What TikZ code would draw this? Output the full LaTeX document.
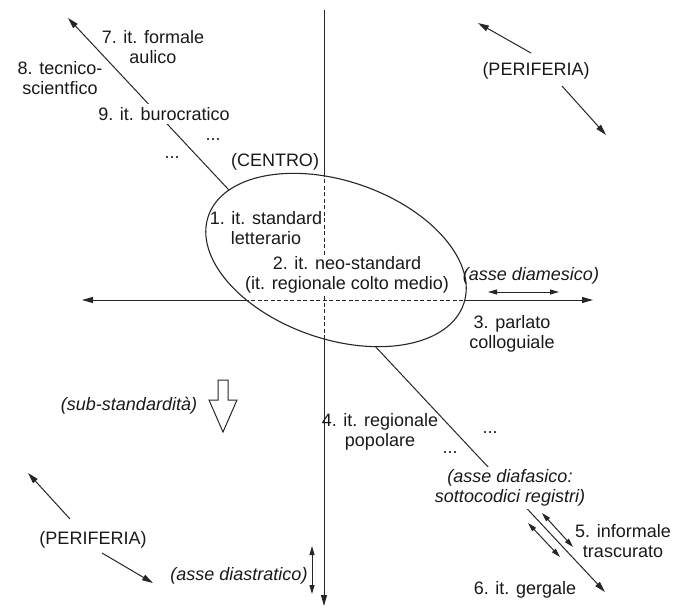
\documentclass[tikz,border=0pt]{standalone}
\usepackage{fontspec}
\setsansfont{Liberation Sans}
\usetikzlibrary{arrows.meta}

\begin{document}
\begin{tikzpicture}[x=1pt, y=-1pt,
    ink/.style={black!85, line width=1pt},
    arr/.style={ink, -{Triangle[length=11pt, width=6pt]}},
    darr/.style={ink, {Triangle[length=11pt, width=6pt]}-{Triangle[length=11pt, width=6pt]}},
    sarr/.style={ink, {Triangle[length=9pt, width=5pt]}-{Triangle[length=9pt, width=5pt]}},
    dashline/.style={black!85, line width=1pt, dash pattern=on 4pt off 2.5pt},
    lbl/.style={align=center, inner sep=1pt, text=black!90},
    gaplbl/.style={lbl, fill=white, inner sep=3pt},
    axislbl/.style={lbl, font=\itshape}]
  \sffamily
  \fontsize{18}{20.5}\selectfont
  \useasboundingbox (0,0) rectangle (676,608);

  % =======================================================
  % PARAMETERS
  % =======================================================
  \def\Cx{336}  % centre of the ellipse (CENTRO)
  \def\Cy{260}
  \def\Tilt{-19} % tilt of the ellipse in degrees
  \def\Ra{135}  % half axes
  \def\Rb{79}

  % =======================================================
  % 1. Axes
  % =======================================================
  \coordinate (vtop)   at (324,10);
  \coordinate (vbot)   at (324,606);
  \coordinate (hleft)  at (82,300);
  \coordinate (hright) at (593,300);
  \coordinate (dtop)   at (68,18);
  \coordinate (dbot)   at (605,592);

  \draw[arr]  (vtop) -- (vbot);   % diastratico
  \draw[darr] (hleft) -- (hright); % diamesico
  \draw[darr] (dtop) -- (dbot);   % diafasico

  % =======================================================
  % 2. Centre (ellipse, dashed axes inside)
  % =======================================================
  \fill[white, rotate around={\Tilt:(\Cx,\Cy)}] (\Cx,\Cy) ellipse [x radius=\Ra, y radius=\Rb];
  \begin{scope}
      \clip[rotate around={\Tilt:(\Cx,\Cy)}] (\Cx,\Cy) ellipse [x radius=\Ra, y radius=\Rb];
      \draw[dashline] (vtop) -- (vbot);
      \draw[dashline] (hleft) -- (hright);
  \end{scope}

  \node[lbl] (centro) at (275,162) {(CENTRO)};
  \node[lbl] (standard) at (266,228) {1. it. standard\\letterario};
  \node[lbl, fill=white] (neo) at (347,275) {2. it. neo-standard\\(it. regionale colto medio)};

  \draw[ink, line width=1.1pt, rotate around={\Tilt:(\Cx,\Cy)}] (\Cx,\Cy) ellipse [x radius=\Ra, y radius=\Rb];

  % =======================================================
  % 3. Upper diaphasic varieties
  % =======================================================
  \node[lbl] (formale) at (153,47) {7. it. formale\\aulico};
  \node[lbl] (tecnico) at (60,78) {8. tecnico-\\scientfico};
  \node[gaplbl] (buro) at (164,114) {9. it. burocratico};
  \node[lbl] (dotsA) at (213,140) {...};
  \node[lbl] (dotsB) at (172,158) {...};

  % =======================================================
  % 4. Diamesic axis
  % =======================================================
  \node[axislbl] (diamesico) at (531,276) {(asse diamesico)};
  \coordinate (dmL) at (488,292);
  \coordinate (dmR) at (559,292);
  \draw[sarr] (dmL) -- (dmR);
  \node[lbl] (parlato) at (512,334) {3. parlato\\colloguiale};

  % =======================================================
  % 5. Lower varieties
  % =======================================================
  \node[lbl] (regpop) at (380,432) {4. it. regionale\\popolare};
  \node[lbl] (dotsC) at (490,433) {...};
  \node[lbl] (dotsD) at (450,453) {...};
  \node[axislbl, fill=white, inner sep=2pt] (diafasico) at (510,488) {(asse diafasico:\\sottocodici registri)};
  \node[lbl] (informale) at (623,541) {5. informale\\trascurato};
  \node[lbl] (gergale) at (525,590) {6. it. gergale};

  \coordinate (regA1) at (542,513);
  \coordinate (regA2) at (573,547);
  \coordinate (regB1) at (528,523);
  \coordinate (regB2) at (560,557);
  \draw[sarr] (regA1) -- (regA2);
  \draw[sarr] (regB1) -- (regB2);

  % =======================================================
  % 6. Sub-standard and diastratic axis
  % =======================================================
  \node[axislbl] (substd) at (129,406) {(sub-standardità)};
  \begin{scope}[shift={(223,380)}]
      \draw[ink, line join=miter] (-5,0) -- (5,0) -- (5,20) -- (14,20) -- (0,52)
          -- (-14,20) -- (-5,20) -- cycle;
  \end{scope}

  \node[axislbl] (diastratico) at (239,576) {(asse diastratico)};
  \coordinate (dsT) at (312,546);
  \coordinate (dsB) at (312,594);
  \draw[sarr] (dsT) -- (dsB);

  % =======================================================
  % 7. Periphery
  % =======================================================
  \node[lbl] (periNE) at (536,71) {(PERIFERIA)};
  \coordinate (pNEa) at (531,53);
  \coordinate (pNEb) at (478,23);
  \coordinate (pNEc) at (562,86);
  \coordinate (pNEd) at (606,135);
  \draw[arr] (pNEa) -- (pNEb);
  \draw[arr] (pNEc) -- (pNEd);

  \node[lbl] (periSW) at (93,540) {(PERIFERIA)};
  \coordinate (pSWa) at (70,519);
  \coordinate (pSWb) at (28,473);
  \coordinate (pSWc) at (102,553);
  \coordinate (pSWd) at (153,583);
  \draw[arr] (pSWa) -- (pSWb);
  \draw[arr] (pSWc) -- (pSWd);

\end{tikzpicture}
\end{document}
